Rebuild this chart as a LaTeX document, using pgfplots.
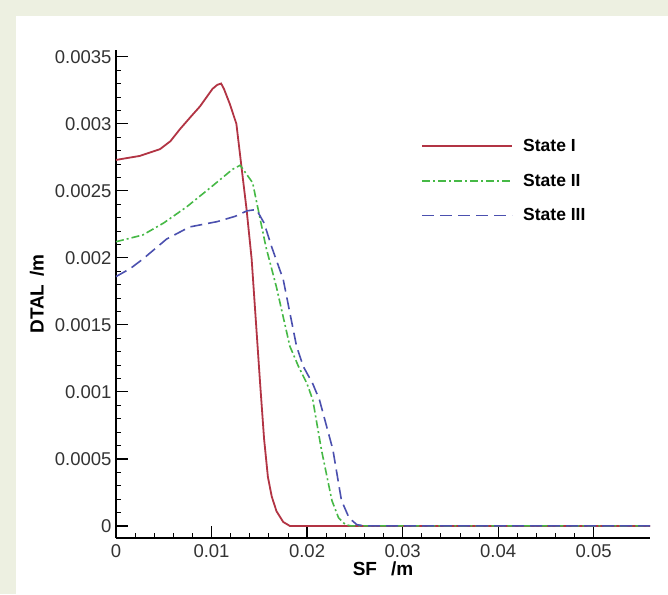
\documentclass[border=0pt]{standalone}
\usepackage{pgfplots}
\pgfplotsset{compat=1.18}
\usepackage{fontspec}
\setmainfont{Liberation Sans}
\definecolor{bgc}{RGB}{237,240,225}
\definecolor{cred}{RGB}{178,52,68}
\definecolor{cgreen}{RGB}{70,185,70}
\definecolor{cblue}{RGB}{75,80,175}
\begin{document}
\begin{tikzpicture}
\fill[bgc] (0,0) rectangle (668pt,594pt);
\fill[white] (16pt,0) rectangle (668pt,578pt);
\begin{axis}[
  at={(116pt,56pt)}, anchor=south west,
  scale only axis, width=534pt, height=488pt,
  xmin=0, xmax=0.0559, ymin=-0.00009, ymax=0.00355,
  scaled ticks=false,
  axis lines=left, axis line style={-, line width=1.6pt},
  xtick={0,0.01,0.02,0.03,0.04,0.05},
  xticklabels={0,0.01,0.02,0.03,0.04,0.05},
  ytick={0,0.0005,0.001,0.0015,0.002,0.0025,0.003,0.0035},
  yticklabels={0,0.0005,0.001,0.0015,0.002,0.0025,0.003,0.0035},
  minor x tick num=4, minor y tick num=4,
  tick align=inside,
  major tick length=12pt, minor tick length=5pt,
  every tick/.style={black, line width=1.2pt},
  minor tick style={line width=0.8pt},
  tick label style={font=\fontsize{18.5}{21}\selectfont, text=black!80},
  xticklabel style={yshift=-3pt},
  yticklabel style={xshift=-1pt},
  xlabel={\textbf{SF\hspace{14pt}/m}},
  ylabel={\textbf{DTAL\hspace{8pt}/m}},
  label style={font=\fontsize{19}{22}\selectfont},
  xlabel style={at={(axis description cs:0.5,-0.064)}, anchor=center},
  ylabel style={at={(axis description cs:-0.148,0.5)}, anchor=center},
  legend style={draw=none, fill=none, at={(rel axis cs:0.566,0.826)}, anchor=north west,
    font=\fontsize{17.5}{20}\selectfont\bfseries, row sep=17pt},
  legend cell align=left,
  legend image code/.code={\draw[#1, line width=1.8pt] (0pt,0pt) -- (90pt,0pt); \path (98pt,0pt);},
  clip=false,
]
\addplot[cred, line width=1.8pt] coordinates {
(0,0.00273) (0.0025,0.00276) (0.0046,0.00281) (0.0057,0.00287) (0.0067,0.00296) (0.0078,0.00305) (0.0088,0.00313) (0.0096,0.00321) (0.0101,0.00326)
(0.0106,0.00329) (0.0110,0.00330) (0.0113,0.00326) (0.0119,0.00315) (0.0126,0.00300) (0.0133,0.00258) (0.01367,0.00236)
(0.0142,0.00199) (0.01506,0.00109) (0.0155,0.00065) (0.0159,0.000366) (0.0163,0.00022) (0.0168,0.00011) (0.0175,0.00003)
(0.0182,0) (0.0559,0)};
\addlegendentry{State I}
\addplot[cgreen, line width=1.6pt, dash pattern=on 8pt off 3pt on 2pt off 3pt] coordinates {
(0,0.00212) (0.0028,0.00217) (0.0050,0.00226) (0.0074,0.00238) (0.0100,0.00253) (0.0122,0.00266) (0.0130,0.00269)
(0.0143,0.00256) (0.0157,0.00208) (0.0168,0.00178) (0.0182,0.00134) (0.0191,0.00119)
(0.0200,0.00106) (0.0206,0.00094) (0.0215,0.00057) (0.0226,0.00019) (0.0233,0.00006) (0.0240,0.00001) (0.0246,0) (0.0559,0)};
\addlegendentry{State II}
\addplot[cblue, line width=1.6pt, dash pattern=on 12pt off 6pt] coordinates {
(0,0.00186) (0.0015,0.00192) (0.0028,0.00199) (0.0053,0.00214) (0.0077,0.00223) (0.0106,0.00227)
(0.0125,0.00231) (0.0137,0.00235) (0.0147,0.00236) (0.0155,0.00226) (0.0163,0.00208) (0.0175,0.00184)
(0.0189,0.00134) (0.0196,0.00119) (0.0206,0.00106) (0.0213,0.00094) (0.0227,0.00057) (0.0236,0.00019)
(0.0244,0.00006) (0.0252,0.00001) (0.0260,0) (0.0559,0)};
\addlegendentry{State III}
\end{axis}
\end{tikzpicture}
\end{document}
